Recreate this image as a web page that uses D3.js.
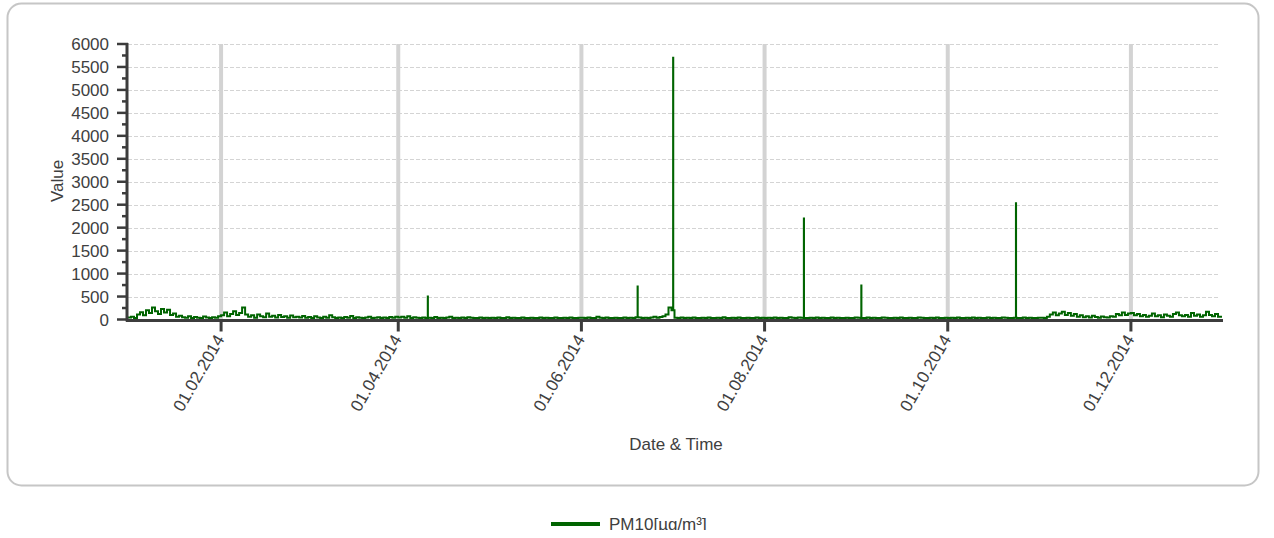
<!DOCTYPE html>
<html>
<head>
<meta charset="utf-8">
<script src="https://cdnjs.cloudflare.com/ajax/libs/d3/7.8.5/d3.min.js"></script>
<style>
    html, body { margin: 0; padding: 0; background: #ffffff; }
    #chart { width: 1274px; height: 538px; overflow: hidden; }
    svg text { font-family: "Liberation Sans", Arial, sans-serif; fill: #404040; }
</style>
</head>
<body>
<div id="chart"></div>
<script>
// Daily PM10 readings (ug/m3), one array per month of 2014
var pm10Jan = [45, 60, 35, 110, 160, 90, 200, 140, 260, 180, 120, 230, 150, 210, 100, 130, 60, 80, 50, 40, 70, 35, 55, 40, 30, 65, 45, 35, 50, 40, 70];
var pm10Feb = [90, 150, 70, 120, 180, 100, 140, 260, 110, 60, 90, 40, 110, 70, 50, 130, 60, 80, 45, 100, 55, 70, 40, 85, 50, 60, 45, 75];
var pm10Mar = [40, 55, 30, 70, 45, 35, 60, 40, 90, 50, 35, 45, 30, 55, 40, 75, 35, 50, 40, 30, 45, 60, 35, 40, 50, 30, 45, 35, 55, 40, 60];
var pm10Apr = [45, 60, 40, 70, 35, 50, 40, 30, 45, 35, 40, 30, 55, 35, 40, 30, 45, 60, 35, 40, 30, 45, 35, 50, 40, 30, 35, 45, 30, 40];
var pm10May = [35, 40, 30, 45, 35, 30, 50, 35, 40, 30, 35, 45, 30, 35, 40, 30, 35, 45, 30, 40, 35, 30, 45, 35, 30, 40, 35, 45, 30, 35, 40];
var pm10Jun = [40, 35, 45, 30, 35, 60, 40, 35, 45, 30, 35, 40, 30, 35, 45, 30, 40, 35, 50, 45, 35, 40, 30, 45, 60, 40, 55, 70, 110, 260];
var pm10Jul = [200, 40, 35, 45, 30, 40, 35, 45, 30, 35, 40, 30, 45, 35, 30, 40, 35, 50, 35, 30, 40, 35, 45, 30, 35, 40, 30, 35, 45, 30, 40];
var pm10Aug = [35, 40, 30, 45, 35, 40, 30, 35, 50, 40, 35, 45, 40, 35, 30, 40, 35, 45, 30, 40, 35, 30, 45, 35, 40, 30, 35, 40, 30, 35, 45];
var pm10Sep = [40, 35, 30, 45, 35, 40, 30, 35, 45, 40, 35, 30, 40, 35, 45, 30, 35, 40, 30, 35, 45, 40, 30, 35, 40, 30, 45, 35, 30, 40];
var pm10Oct = [35, 40, 30, 45, 35, 30, 40, 35, 45, 30, 40, 35, 30, 45, 35, 40, 30, 35, 45, 40, 30, 35, 40, 30, 35, 45, 30, 40, 35, 30, 40];
var pm10Nov = [40, 35, 60, 110, 150, 90, 130, 170, 100, 140, 80, 120, 60, 90, 50, 70, 45, 80, 55, 40, 65, 50, 45, 70, 60, 120, 90, 150, 100, 130];
var pm10Dec = [140, 90, 120, 70, 100, 60, 80, 130, 70, 90, 50, 110, 80, 60, 120, 150, 90, 70, 100, 60, 140, 80, 110, 60, 90, 170, 100, 70, 120, 60, 40];

// Short hourly peaks
var spikeTimes = ["2014-04-10T20:00", "2014-06-19T17:00", "2014-07-01T13:00", "2014-08-14T02:00", "2014-09-02T05:00", "2014-10-23T17:00"];
var spikeValues = [500, 720, 5700, 2200, 740, 2530];

var yTicks = [0, 500, 1000, 1500, 2000, 2500, 3000, 3500, 4000, 4500, 5000, 5500, 6000];
var xTickDates = ["2014-02-01", "2014-04-01", "2014-06-01", "2014-08-01", "2014-10-01", "2014-12-01"];
var seriesName = "PM10[\u00b5g/m\u00b3]";

var width = 1274, height = 530;
var plot = {left: 128, right: 1224, top: 44, bottom: 319.5};
var green = "#006400";
var fontSize = "17px";

// Build the time series
var months = [pm10Jan, pm10Feb, pm10Mar, pm10Apr, pm10May, pm10Jun, pm10Jul, pm10Aug, pm10Sep, pm10Oct, pm10Nov, pm10Dec];
var points = [];
months.forEach(function(vals, m) {
    vals.forEach(function(v, i) {
        points.push({t: new Date(2014, m, i + 1), v: v});
    });
});
var parseTime = d3.timeParse("%Y-%m-%dT%H:%M");
spikeTimes.forEach(function(s, i) {
    var t = parseTime(s);
    var day = months[t.getMonth()][t.getDate() - 1];
    points.push({t: t, v: spikeValues[i]});
    points.push({t: d3.timeHour.offset(t, 1), v: day});
});
points.sort(function(a, b) { return a.t - b.t; });

var x = d3.scaleTime()
    .domain([new Date(2014, 0, 1), new Date(2015, 0, 1)])
    .range([plot.left, plot.right]);
var y = d3.scaleLinear()
    .domain([0, 6000])
    .range([plot.bottom, plot.top]);

var svg = d3.select("#chart").append("svg")
    .attr("width", width)
    .attr("height", height);

// Panel frame
svg.append("rect")
    .attr("x", 7.5).attr("y", 3.5)
    .attr("width", 1251).attr("height", 482)
    .attr("rx", 14).attr("ry", 14)
    .attr("fill", "#ffffff")
    .attr("stroke", "#c6c6c6")
    .attr("stroke-width", 2);

// Horizontal dashed grid
svg.append("g").selectAll("line")
    .data(yTicks.filter(function(d) { return d > 0; }))
    .enter().append("line")
    .attr("x1", plot.left).attr("x2", 1220)
    .attr("y1", function(d) { return Math.round(y(d)) + 0.5; })
    .attr("y2", function(d) { return Math.round(y(d)) + 0.5; })
    .attr("stroke", "#d4d4d4")
    .attr("stroke-dasharray", "4,2");

// Vertical grid at date ticks
var tickDates = xTickDates.map(d3.timeParse("%Y-%m-%d"));
svg.append("g").selectAll("line")
    .data(tickDates)
    .enter().append("line")
    .attr("x1", function(d) { return x(d); })
    .attr("x2", function(d) { return x(d); })
    .attr("y1", plot.top).attr("y2", plot.bottom)
    .attr("stroke", "#d3d3d3")
    .attr("stroke-width", 4);

// Series
var line = d3.line()
    .x(function(d) { return x(d.t); })
    .y(function(d) { return y(d.v); })
    .curve(d3.curveStepAfter);

svg.append("path")
    .datum(points)
    .attr("fill", "none")
    .attr("stroke", green)
    .attr("stroke-width", 2)
    .attr("d", line);

// Y axis
var axisColor = "#3c3c3c";
var yAxis = svg.append("g");
yAxis.append("line")
    .attr("x1", plot.left - 1).attr("x2", plot.left - 1)
    .attr("y1", plot.top - 1).attr("y2", plot.bottom + 2)
    .attr("stroke", axisColor).attr("stroke-width", 3);
var minor = d3.range(0, 6001, 250);
yAxis.selectAll(".tick")
    .data(minor)
    .enter().append("line")
    .attr("x1", function(d) { return d % 500 === 0 ? 117 : 122; })
    .attr("x2", plot.left)
    .attr("y1", function(d) { return y(d); })
    .attr("y2", function(d) { return y(d); })
    .attr("stroke", axisColor).attr("stroke-width", 2.5);
yAxis.selectAll("text")
    .data(yTicks)
    .enter().append("text")
    .attr("x", 109)
    .attr("y", function(d) { return y(d); })
    .attr("dy", "0.36em")
    .attr("text-anchor", "end")
    .style("font-size", fontSize)
    .text(function(d) { return d; });

// X axis
var xAxis = svg.append("g");
xAxis.append("line")
    .attr("x1", plot.left - 2).attr("x2", plot.right - 1)
    .attr("y1", plot.bottom + 1).attr("y2", plot.bottom + 1)
    .attr("stroke", axisColor).attr("stroke-width", 3);
xAxis.selectAll(".tick")
    .data(tickDates)
    .enter().append("line")
    .attr("x1", function(d) { return x(d); })
    .attr("x2", function(d) { return x(d); })
    .attr("y1", plot.bottom).attr("y2", plot.bottom + 12)
    .attr("stroke", axisColor).attr("stroke-width", 3);
var fmt = d3.timeFormat("%d.%m.%Y");
xAxis.selectAll("text")
    .data(tickDates)
    .enter().append("text")
    .attr("transform", function(d) { return "translate(" + (x(d) + 4) + "," + 339 + ") rotate(-60)"; })
    .attr("text-anchor", "end")
    .style("font-size", fontSize)
    .text(fmt);

// Axis titles
svg.append("text")
    .attr("x", 676).attr("y", 450)
    .attr("text-anchor", "middle")
    .style("font-size", fontSize)
    .text("Date & Time");
svg.append("text")
    .attr("transform", "translate(63,181) rotate(-90)")
    .attr("text-anchor", "middle")
    .style("font-size", fontSize)
    .text("Value");

// Legend
svg.append("line")
    .attr("x1", 551).attr("x2", 600)
    .attr("y1", 524).attr("y2", 524)
    .attr("stroke", green).attr("stroke-width", 4);
svg.append("text")
    .attr("x", 609).attr("y", 530)
    .style("font-size", fontSize)
    .text(seriesName);
</script>
</body>
</html>
